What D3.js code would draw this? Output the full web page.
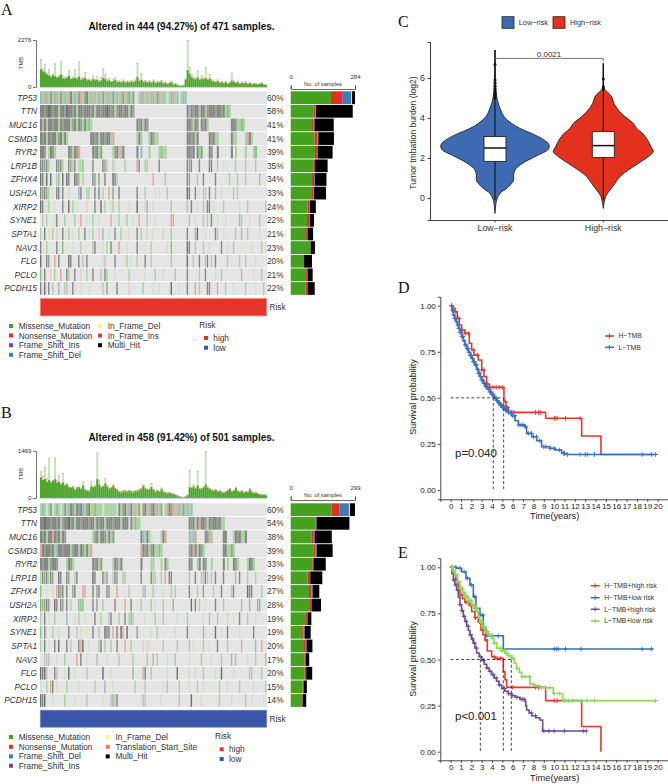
<!DOCTYPE html>
<html>
<head>
<meta charset="utf-8">
<script src="https://d3js.org/d3.v7.min.js"></script>
<style>
  html, body { margin: 0; background: #fff; }
  svg { display: block; font-family: "Liberation Sans", Arial, sans-serif; }
</style>
</head>
<body>
<div id="myChart"></div>
<script>
// genes and percentages of the two oncoplots
const genesA = ["TP53","TTN","MUC16","CSMD3","RYR2","LRP1B","ZFHX4","USH2A","XIRP2","SYNE1","SPTA1","NAV3","FLG","PCLO","PCDH15"];
const pctA = [60,58,41,41,39,35,34,33,24,22,21,23,20,21,22];
const pctB = [60,54,38,39,33,29,27,28,19,19,20,17,20,15,14];

// TMB per column of the oncoplot (about 4 samples a column): whole bar and its solid part
const tmbTopA = [1350,900,1100,700,880,560,640,1140,520,600,1270,560,480,520,820,440,500,850,480,1240,420,460,730,380,420,360,560,400,520,340,480,900,620,360,440,300,380,480,300,320,280,360,260,320,280,340,300,360,1170,380,650,300,340,280,320,260,360,240,300,280,340,220,260,180,240,300,160,200,120,100,90,110,420,2276,980,620,500,460,800,420,560,480,950,440,620,380,320,280,360,240,300,220,280,200,260,680,320,240,300,200,260,220,280,180,240,160,200,180,160,200,240,150,130];
const tmbCoreA = [860,760,700,600,560,480,560,520,440,500,600,420,400,440,540,380,420,440,380,500,340,400,440,320,340,290,380,320,350,260,320,440,380,290,320,240,290,350,230,250,220,280,200,250,220,260,230,280,480,290,340,230,260,220,250,200,270,190,230,220,260,170,200,140,190,230,130,160,100,85,70,85,360,820,640,480,400,370,460,340,400,370,430,340,400,300,260,230,290,200,240,190,230,170,210,310,240,190,230,160,200,170,210,140,190,130,160,140,130,160,170,115,100];
const tmbTopB = [830,700,980,620,1240,520,560,1260,560,730,480,780,440,470,360,340,360,280,330,360,300,520,260,240,220,520,380,400,1420,570,360,400,620,400,300,340,420,320,260,220,190,210,230,200,240,210,190,230,220,260,300,420,300,260,280,470,280,200,250,220,320,200,180,160,190,160,150,120,90,60,40,30,60,110,880,340,420,320,850,320,300,360,1469,360,300,260,240,280,220,240,200,180,210,260,310,220,250,360,230,200,240,180,220,190,310,200,170,190,150,130,110,120,100];
const tmbCoreB = [640,560,590,500,560,480,530,590,480,500,420,480,390,420,340,340,360,280,340,340,290,390,270,250,240,360,340,360,590,420,340,360,450,360,310,340,390,310,270,220,210,240,240,220,250,220,210,240,240,270,310,390,310,280,290,340,280,210,250,220,280,210,180,170,180,150,140,110,85,55,40,28,55,100,340,310,360,310,390,290,310,340,420,320,290,270,240,270,220,240,200,180,210,240,290,220,250,310,220,200,240,180,220,200,270,200,170,180,150,125,110,125,100];

// oncoplot cells: [first column, one letter per column]
const cellColors = {K:"#6e6e6e",k:"#868686",d:"#93a38c",G:"#8ac481",g:"#a8d49e",l:"#cfe5ca",p:"#c2c2c2",r:"#e2a796",e:"#eccac2",b:"#98b8cf",t:"#94c7b3",y:"#efe9a8"};
const cellsA = [
  [[0,"bgtrgdgbrgdgtgrkgbgdrgdkgtgrgbgdgrtgdgbgrdgtdgd"],[48,"lgbrgtgrbgdrgtglgbrgtlgbt"]],
  [[0,"kkdkKkdkkgkkdKkkdkgkkdkkkdkgkkdkkKkdkgdkkdkkgkd"],[73,"kbkdkkgkkrdkkkdkkdkgGg"]],
  [[0,"krkgkkdkkgkdkkkgdkgkdgkgGg"],[48,"kdkgkd"],[73,"kkdgkd"],[80,"kdkg"],[95,"kkdggGg"]],
  [[0,"kdkgkdkkgdkgkg"],[25,"kkdkgkkdkkgr"],[48,"gkg"],[54,"gkdgg"],[73,"kkdkgk"],[84,"kdkgg"],[95,"kgg"],[102,"grkg"]],
  [[0,"kkd"],[4,"gkdg"],[14,"kdgkdr"],[26,"kdkgd"],[36,"gdkgrk"],[48,"k"],[50,"b"],[54,"g"],[59,"gGgg"],[73,"kkdk"],[78,"kgd"],[84,"kd"],[88,"k"],[95,"k"],[97,"g"],[102,"g"],[106,"gG"]],
  [[0,"kkdkg"],[8,"kdkg"],[14,"kdgk"],[19,"ggG"],[26,"k"],[31,"kdg"],[36,"gl"],[42,"g"],[48,"r"],[49,"k"],[52,"gg"],[59,"k"],[73,"kdk"],[79,"k"],[84,"kk"],[88,"g"],[91,"l"],[97,"g"],[102,"g"],[107,"g"]],
  [[0,"Kkl"],[3,"K"],[5,"K"],[8,"gG"],[11,"K"],[13,"Kk"],[17,"KkG"],[21,"g"],[26,"kd"],[29,"d"],[32,"k"],[36,"Kkg"],[56,"r"],[62,"g"],[73,"kd"],[78,"g"],[81,"k"],[87,"k"],[94,"g"],[98,"g"],[102,"g"],[109,"r"]],
  [[0,"kdkd"],[4,"g"],[6,"l"],[8,"k"],[9,"k"],[11,"k"],[14,"l"],[19,"b"],[20,"k"],[23,"gg"],[27,"k"],[29,"k"],[31,"g"],[34,"r"],[36,"d"],[39,"k"],[48,"k"],[52,"g"],[57,"l"],[59,"l"],[63,"g"],[73,"Kk"],[77,"k"],[79,"l"],[81,"pp"],[84,"k"],[87,"b"],[90,"l"],[96,"g"],[98,"g"]],
  [[0,"Kk"],[3,"l"],[4,"g"],[7,"l"],[11,"k"],[14,"K"],[16,"g"],[18,"l"],[23,"e"],[27,"k"],[30,"K"],[32,"g"],[35,"l"],[36,"g"],[39,"g"],[44,"l"],[48,"K"],[52,"e"],[53,"b"],[56,"l"],[65,"g"],[73,"g"],[75,"kl"],[78,"l"],[81,"g"],[83,"kk"],[86,"l"],[91,"g"],[99,"l"],[103,"g"],[112,"g"]],
  [[1,"p"],[3,"g"],[7,"l"],[8,"k"],[12,"g"],[17,"g"],[20,"r"],[23,"l"],[26,"g"],[29,"l"],[35,"r"],[37,"l"],[39,"g"],[43,"g"],[46,"l"],[49,"r"],[53,"g"],[57,"l"],[65,"r"],[66,"r"],[74,"g"],[77,"l"],[81,"p"],[83,"g"],[85,"k"],[88,"l"],[92,"l"],[99,"b"],[100,"g"],[104,"l"],[109,"g"]],
  [[0,"g"],[2,"k"],[4,"l"],[6,"g"],[8,"e"],[11,"k"],[14,"g"],[16,"l"],[19,"g"],[22,"k"],[24,"l"],[26,"g"],[29,"e"],[31,"b"],[34,"l"],[37,"k"],[40,"g"],[44,"l"],[48,"k"],[50,"g"],[53,"e"],[56,"l"],[61,"e"],[65,"g"],[73,"k"],[77,"b"],[78,"K"],[82,"l"],[87,"k"],[88,"g"],[91,"l"],[97,"g"],[100,"r"],[103,"g"],[109,"l"]],
  [[0,"k"],[3,"g"],[8,"k"],[11,"G"],[16,"l"],[20,"p"],[26,"g"],[27,"k"],[31,"l"],[33,"g"],[35,"k"],[39,"r"],[43,"l"],[48,"k"],[52,"l"],[55,"g"],[63,"l"],[65,"G"],[73,"K"],[74,"k"],[77,"g"],[81,"p"],[84,"l"],[90,"k"],[93,"l"],[96,"g"],[105,"l"],[110,"g"],[112,"l"]],
  [[0,"K"],[3,"k"],[4,"d"],[7,"r"],[9,"k"],[14,"Kk"],[19,"k"],[21,"p"],[23,"k"],[31,"l"],[32,"p"],[37,"k"],[43,"g"],[45,"l"],[48,"p"],[52,"k"],[55,"p"],[65,"g"],[73,"K"],[76,"g"],[79,"k"],[82,"pk"],[85,"g"],[87,"k"],[93,"g"],[99,"p"],[102,"g"],[107,"l"]],
  [[0,"G"],[2,"k"],[5,"e"],[7,"g"],[10,"r"],[13,"k"],[14,"g"],[17,"k"],[20,"e"],[23,"g"],[26,"k"],[30,"p"],[32,"k"],[33,"g"],[37,"l"],[44,"g"],[52,"l"],[57,"g"],[61,"l"],[67,"g"],[73,"k"],[79,"g"],[82,"k"],[87,"l"],[90,"g"],[100,"r"],[106,"l"],[110,"g"]],
  [[0,"k"],[2,"K"],[4,"k"],[6,"p"],[9,"b"],[12,"g"],[13,"p"],[16,"k"],[20,"l"],[24,"l"],[31,"g"],[33,"d"],[38,"k"],[44,"e"],[51,"g"],[56,"l"],[59,"l"],[65,"K"],[69,"l"],[73,"k"],[77,"r"],[79,"g"],[83,"kk"],[88,"r"],[92,"g"],[96,"l"],[102,"g"],[107,"l"],[111,"g"]]
];
const cellsB = [
  [[0,"gbglgdlgbglgdgbkdgkdkbgdk"],[25,"ggGggglggggggl"],[39,"kgdkgbkgrgd"],[50,"ydkgrdkrbgdygrkdrgrbgdgbgt"]],
  [[0,"kkKkkdkkdkgdkkKdkgkkdkkkdkkgkdkkgkkkdkkkgkkk"],[45,"kgGgg"],[74,"kdkgkrkkdgkdkkdkgg"]],
  [[0,"kdkgkkrkdkgkd"],[26,"gdkgkkdgkgd"],[50,"kbgkgl"],[60,"gkr"],[74,"bgbr"],[82,"kdrg"],[91,"kk"],[96,"gkdkggk"]],
  [[0,"rkdkkdkgbkkdkkkgdkkgkdgkgr"],[50,"rkdkgdkggGg"],[74,"dkrkgkdg"],[91,"kkggdg"]],
  [[0,"kdkkgdkkd"],[13,"gkdg"],[26,"kdkgd"],[36,"gkdgk"],[50,"k"],[55,"gg"],[60,"g"],[62,"kg"],[74,"kd"],[78,"gk"],[81,"kd"],[85,"g"],[91,"k"],[93,"g"],[96,"kdg"],[103,"gkdg"]],
  [[0,"gkdkgkd"],[9,"Kk"],[13,"kd"],[17,"gk"],[26,"Kk"],[31,"kgd"],[36,"gkd"],[41,"gg"],[50,"k"],[55,"kgg"],[60,"g"],[62,"r"],[64,"kk"],[74,"g"],[77,"k"],[80,"ppkp"],[85,"g"],[87,"k"],[91,"k"],[97,"r"],[99,"k"],[103,"g"],[107,"g"]],
  [[0,"G"],[3,"l"],[6,"l"],[8,"rkdk"],[13,"k"],[16,"d"],[17,"k"],[21,"rr"],[26,"k"],[28,"d"],[29,"k"],[33,"kd"],[38,"r"],[44,"g"],[51,"p"],[52,"b"],[56,"g"],[61,"l"],[65,"g"],[67,"g"],[74,"k"],[78,"g"],[81,"d"],[86,"g"],[90,"k"],[95,"pk"],[103,"Kkk"],[110,"g"]],
  [[0,"dGdkd"],[7,"Kk"],[10,"kd"],[13,"k"],[15,"g"],[19,"GGG"],[26,"k"],[28,"d"],[31,"g"],[37,"k"],[42,"r"],[45,"k"],[50,"g"],[55,"g"],[57,"l"],[61,"g"],[66,"G"],[75,"K"],[77,"k"],[79,"g"],[82,"l"],[87,"k"],[91,"g"],[100,"r"],[104,"G"],[108,"GG"]],
  [[0,"p"],[2,"k"],[4,"l"],[7,"g"],[13,"b"],[17,"l"],[19,"g"],[22,"l"],[27,"k"],[30,"g"],[34,"p"],[35,"k"],[39,"g"],[42,"k"],[44,"gGg"],[52,"l"],[57,"g"],[61,"g"],[68,"l"],[73,"g"],[81,"l"],[84,"g"],[88,"g"],[93,"e"],[96,"l"],[99,"k"],[103,"g"],[107,"l"]],
  [[0,"G"],[2,"k"],[3,"l"],[6,"p"],[9,"l"],[14,"k"],[18,"p"],[20,"l"],[23,"y"],[26,"k"],[29,"p"],[32,"Kkk"],[36,"r"],[38,"k"],[40,"K"],[41,"r"],[43,"K"],[48,"d"],[55,"l"],[58,"g"],[67,"l"],[73,"k"],[81,"b"],[82,"l"],[87,"K"],[90,"l"],[93,"k"],[99,"l"],[106,"k"]],
  [[0,"g"],[2,"k"],[4,"l"],[7,"k"],[9,"K"],[13,"k"],[15,"p"],[19,"krK"],[24,"l"],[29,"pk"],[32,"g"],[35,"p"],[38,"k"],[42,"r"],[45,"g"],[51,"e"],[53,"e"],[54,"l"],[61,"p"],[68,"g"],[74,"g"],[76,"l"],[81,"g"],[84,"l"],[88,"k"],[93,"g"],[100,"r"],[107,"b"],[110,"r"]],
  [[2,"pp"],[4,"p"],[8,"l"],[12,"g"],[18,"r"],[20,"k"],[23,"l"],[28,"g"],[33,"l"],[39,"g"],[46,"g"],[53,"p"],[56,"r"],[58,"g"],[63,"l"],[67,"g"],[74,"l"],[80,"g"],[85,"l"],[90,"g"],[95,"b"],[97,"r"],[103,"l"],[107,"g"],[112,"r"]],
  [[0,"KkKp"],[7,"kp"],[12,"l"],[14,"K"],[17,"l"],[23,"p"],[31,"K"],[35,"l"],[46,"G"],[51,"rk"],[55,"g"],[63,"l"],[68,"K"],[74,"l"],[77,"e"],[81,"g"],[87,"l"],[90,"K"],[96,"l"],[104,"pp"],[110,"g"]],
  [[0,"l"],[3,"g"],[5,"r"],[6,"k"],[8,"l"],[13,"g"],[19,"l"],[27,"g"],[32,"b"],[36,"l"],[47,"g"],[52,"p"],[61,"l"],[63,"g"],[69,"g"],[74,"l"],[78,"p"],[81,"l"],[89,"g"],[93,"l"],[99,"g"],[106,"l"],[112,"g"]],
  [[0,"Kk"],[2,"K"],[6,"l"],[12,"g"],[17,"l"],[23,"g"],[31,"l"],[35,"pGpk"],[51,"pp"],[60,"l"],[69,"g"],[75,"K"],[80,"l"],[89,"g"],[95,"l"],[102,"g"],[105,"l"],[111,"l"]]
];

// side bars: samples of each mutation class per gene
const classOrderA = ["Missense_Mutation","Nonsense_Mutation","Frame_Shift_Ins","Frame_Shift_Del","In_Frame_Del","In_Frame_Ins","Multi_Hit"];
const classOrderB = ["Missense_Mutation","Nonsense_Mutation","Frame_Shift_Del","Frame_Shift_Ins","In_Frame_Del","Translation_Start_Site","Multi_Hit"];
const classColors = {Missense_Mutation:"#45a21f",Nonsense_Mutation:"#e03020",Frame_Shift_Ins:"#7a3fb0",Frame_Shift_Del:"#3a80b8",In_Frame_Del:"#fdf28c",In_Frame_Ins:"#d83a55",Translation_Start_Site:"#f57a50",Multi_Hit:"#000000"};
const sideA = [[178,50,3,37,3,0,13],[100,9,0,3,0,0,162],[94,7,0,4,0,0,85],[106,12,0,4,0,0,69],[107,9,0,4,0,0,65],[100,7,0,0,0,0,56],[94,9,0,4,0,0,51],[94,6,0,3,0,0,53],[75,7,0,3,0,0,26],[72,9,0,4,0,0,18],[68,7,0,0,0,0,24],[87,1,0,0,0,0,19],[59,0,0,0,0,0,35],[68,7,0,0,0,0,22],[66,9,0,0,0,0,31]];
const sideB = [[191,37,40,5,3,0,23],[115,5,0,0,0,0,153],[96,8,5,4,0,0,78],[105,11,5,0,0,0,74],[101,5,0,0,0,0,57],[79,12,0,0,0,0,56],[85,12,5,0,0,0,31],[90,9,0,0,0,0,42],[71,8,0,0,0,0,17],[53,6,6,0,0,0,28],[62,8,0,5,0,0,26],[64,6,0,0,0,0,16],[64,8,0,0,0,0,28],[56,5,0,0,0,0,14],[53,3,0,0,0,0,16]];

// violin densities
const violinLowV = [7.4,5.73,5.07,4.73,4.4,4.07,3.73,3.48,3.23,2.98,2.73,2.57,2.4,2.15,1.9,1.65,1.4,1.15,0.9,0.73,0.48,0.23,-0.1,-0.77];
const violinLowD = [0,2,5,10,17,27,50,75,110,140,160,163,158,130,100,75,60,56,56,50,35,15,5,0];
const violinHighV = [6.73,5.48,5.3,5.07,4.73,4.4,4.07,3.73,3.48,3.23,2.9,2.57,2.32,2.07,1.73,1.4,1.07,0.73,0.4,0.07,-0.52];
const violinHighD = [0,3,12,25,32,45,65,90,100,118,133,143,150,135,105,75,50,35,20,7,0];
const riskGroups = ["Low−risk","High−risk"];
const boxQ1 = [1.83,2.03], boxMed = [2.5,2.62], boxQ3 = [3.07,3.32];
const whiskerTop = [7.4,6.73], whiskerBottom = [-0.1,-0.1];
const outliersLow = [6.67,5.9,5.75,5.6,5.45,5.3,5.2,5.1,5.0];
const outliersHigh = [5.95,5.55,5.45];

// survival curves, time in years and survival
const dHighT = [0,.2,.42,.64,.84,1.06,1.38,1.8,2.03,2.25,2.67,3,3.22,3.48,3.74,4.28,5.15,5.35,5.57,9.18,12.66,14.52,19.58];
const dHighS = [1,.985,.967,.931,.895,.868,.85,.796,.76,.732,.705,.651,.615,.575,.557,.557,.479,.448,.421,.389,.293,.193,.193];
const dHighC = [.1,.3,.5,.8,1.1,1.4,1.7,2.2,2.6,3,3.2,3.5,3.8,4.1,4.4,4.7,5,5.3,5.5,5.9,6.1,8.2,8.5,8.7,10,10.1,10.3,11.1,12.5,18.5,19.4];
const dLowT = [0,.13,.26,.39,.52,.65,.77,.9,1.06,1.22,1.38,1.55,1.71,1.87,2.03,2.19,2.35,2.51,2.67,2.83,3,3.16,3.32,3.48,3.64,3.8,3.96,4.12,4.28,4.44,4.6,4.76,4.93,5.25,5.57,5.89,6.22,6.54,7.18,7.34,7.83,8.31,8.79,9.6,10.08,10.72,11.05,19.9];
const dLowS = [1,.973,.949,.93,.913,.895,.877,.856,.832,.81,.787,.767,.747,.73,.714,.696,.678,.655,.633,.615,.597,.58,.564,.555,.546,.532,.519,.508,.497,.485,.474,.461,.448,.434,.42,.403,.376,.353,.344,.307,.289,.268,.235,.226,.217,.199,.193,.193];
const dLowC = [.1,.2,.3,.4,.5,.6,.7,.8,.9,1,1.1,1.2,1.3,1.4,1.5,1.6,1.7,1.8,1.9,2,2.1,2.2,2.3,2.4,2.5,2.6,2.7,2.8,2.9,3,3.1,3.2,3.3,3.4,3.5,3.6,3.7,3.8,3.9,4,4.1,4.2,4.3,4.4,4.5,4.6,4.7,4.8,4.9,5,5.1,5.2,5.3,5.4,5.5,5.6,5.8,6,6.2,6.6,6.8,7,7.2,7.5,7.8,8,8.3,8.6,9,9.2,9.6,10,10.5,10.9,11,11.3,12.5,13,13.2,13.9,19.8];

const eHighRiskT = [0,.16,.32,.48,.64,.78,.9,1.14,1.38,1.8,2.03,2.35,2.67,2.93,3.12,3.32,3.54,3.96,4.28,5.09,5.25,5.41,9.18,12.66,14.52,14.52];
const eHighRiskS = [1,.98,.958,.935,.913,.88,.85,.83,.81,.796,.76,.727,.705,.66,.635,.606,.546,.515,.506,.434,.39,.349,.277,.137,0,0];
const eHighRiskC = [.5,1.1,1.5,1.9,2.4,2.8,3.1,3.4,4.2,4.5,4.8,6,8.2,8.5,10,10.3];
const eLowRiskT = [0,.58,1.06,1.48,1.87,2.19,2.45,2.83,3.16,3.41,5.09,19.58];
const eLowRiskS = [1,.995,.976,.94,.904,.841,.778,.741,.669,.629,.557,.557];
const eLowRiskC = [.2,.5,.9,1.3,1.6,2,2.3,2.9,3.1,3.5,4,4.6,10,10.2,10.4,11.1,12.6,18.5,19.4];
const ePurpleT = [0,.13,.26,.42,.58,.74,.9,1.06,1.22,1.38,1.55,1.71,1.87,2.03,2.19,2.35,2.51,2.75,3,3.24,3.48,3.72,3.96,4.2,4.44,4.68,4.93,5.25,5.57,5.9,6.22,6.7,7.18,7.26,7.34,7.58,7.83,8.23,8.63,8.89,13.14];
const ePurpleS = [1,.965,.931,.904,.877,.838,.797,.765,.734,.707,.68,.657,.634,.611,.589,.562,.535,.515,.495,.474,.454,.436,.418,.4,.382,.362,.342,.328,.315,.305,.295,.284,.273,.25,.226,.21,.195,.184,.172,.112,.112];
const ePurpleC = [.1,.3,.5,.7,.9,1.1,1.3,1.5,1.7,1.9,2.1,2.3,2.5,2.9,3.2,3.5,3.8,4.1,4.4,4.7,5.2,5.6,6,6.4,6.9,7.1,7.8,8.2,9,9.5,10,11,12.8,13.1];
const eGreenT = [0,.21,.42,.66,.9,1.14,1.38,1.7,2.03,2.27,2.51,2.67,2.83,3.08,3.32,3.64,3.96,4.2,4.44,4.85,5.25,5.57,5.89,6.14,6.38,6.62,6.86,7.66,8.15,8.63,9.92,10.82,19.9];
const eGreenS = [1,.98,.958,.922,.886,.863,.841,.818,.796,.778,.76,.732,.705,.678,.651,.633,.615,.588,.561,.548,.534,.52,.506,.48,.452,.43,.407,.365,.356,.347,.316,.277,.277];
const eGreenC = [.1,.2,.3,.4,.5,.6,.7,.8,.9,1,1.1,1.2,1.3,1.4,1.5,1.6,1.7,1.8,1.9,2,2.1,2.2,2.3,2.4,2.5,2.6,2.7,2.8,2.9,3,3.1,3.2,3.3,3.4,3.5,3.6,3.8,4,4.2,4.4,4.6,4.8,5,5.2,5.4,5.6,5.8,6,6.4,6.9,7.2,7.6,8,8.4,8.8,9.2,9.6,10,10.5,11,11.4,11.8,12.7,13.2,13.9,19.8];
const yearTicks = d3.range(0, 21);
const survivalTicks = [0,.25,.5,.75,1];

const width = 668, height = 784;
const svg = d3.select("#myChart").append("svg").attr("width", width).attr("height", height);
const defs = svg.append("defs");
defs.append("filter").attr("id", "soft").append("feGaussianBlur").attr("stdDeviation", 0.35);

function panelLetter(s, x, y) {
  svg.append("text").text(s).attr("x", x).attr("y", y)
    .style("font-family", "'Liberation Serif', serif").style("font-size", "16px").attr("fill", "#111");
}

// Oncoplot panels A and B
function drawOncoplot(o) {
  const g = svg.append("g");
  const columns = o.tmbTop.length;
  const x = d3.scaleBand().domain(d3.range(columns)).range([40, 267]).paddingInner(0);
  const rowY = d3.scaleBand().domain(genesA).range([o.rowTop, o.rowTop + 13.57 * 15]).paddingInner(0.065).paddingOuter(0);
  const tmbY = d3.scaleLinear().domain([0, o.tmbMax]).range([o.tmbBase, o.tmbBase - 47]);

  g.append("text").text(o.title).attr("x", 181.5).attr("y", o.titleY).attr("text-anchor", "middle")
    .style("font-size", "10px").style("font-weight", "bold").attr("fill", "#111");

  // TMB bars
  const bars = g.append("g").attr("filter", "url(#soft)");
  bars.selectAll(".top").data(o.tmbTop).enter().append("rect")
    .attr("x", (d, i) => x(i)).attr("width", x.bandwidth())
    .attr("y", d => tmbY(d)).attr("height", d => o.tmbBase - tmbY(d)).attr("fill", "#c6e2bb");
  bars.selectAll(".core").data(o.tmbCore).enter().append("rect")
    .attr("x", (d, i) => x(i)).attr("width", x.bandwidth())
    .attr("y", d => tmbY(d)).attr("height", d => o.tmbBase - tmbY(d)).attr("fill", "#4ea82c");
  bars.selectAll(".cap").data(o.tmbTop).enter().append("rect")
    .attr("x", (d, i) => x(i)).attr("width", x.bandwidth())
    .attr("y", d => tmbY(d)).attr("height", 0.9).attr("fill", "#f0b0a0");
  g.append("line").attr("x1", 40).attr("x2", 267).attr("y1", o.tmbBase + 0.3).attr("y2", o.tmbBase + 0.3)
    .attr("stroke", "#a0bccb").attr("stroke-width", 0.8);

  const tmbAxis = d3.axisLeft(tmbY).tickValues([0, o.tmbMax]).tickFormat(d3.format("d")).tickSize(3).tickPadding(1.5);
  const axG = g.append("g").attr("transform", "translate(36,0)").call(tmbAxis);
  axG.selectAll("path,line").attr("stroke", "#777").attr("stroke-width", 1);
  axG.selectAll("text").style("font-size", "6.2px").attr("fill", "#333");
  g.append("text").text("TMB").attr("transform", `translate(22.5,${o.tmbBase - 24}) rotate(-90)`)
    .attr("text-anchor", "middle").style("font-size", "5.6px").attr("fill", "#333");

  // rows
  const heat = g.append("g").attr("filter", "url(#soft)");
  heat.selectAll(".bg").data(genesA).enter().append("rect")
    .attr("x", 40).attr("width", 227).attr("y", d => rowY(d)).attr("height", rowY.bandwidth()).attr("fill", "#e5e5e5");
  o.cells.forEach((spans, r) => {
    const letters = spans.flatMap(s => s[1].split("").map((c, k) => ({col: s[0] + k, c})));
    const cellWidth = r >= 5 ? 1.4 : x.bandwidth() + 0.05;
    heat.selectAll(null).data(letters).enter().append("rect")
      .attr("x", d => x(d.col)).attr("width", cellWidth)
      .attr("y", rowY(genesA[r])).attr("height", rowY.bandwidth())
      .attr("fill", d => cellColors[d.c]);
  });

  g.selectAll(".gene").data(genesA).enter().append("text").text(d => d)
    .attr("x", 37).attr("y", d => rowY(d) + rowY.bandwidth() / 2 + 3)
    .attr("text-anchor", "end").style("font-size", "8.3px").style("font-style", "italic").attr("fill", "#333");
  g.selectAll(".pct").data(o.pct).enter().append("text").text(d => d + "%")
    .attr("x", 267).attr("y", (d, i) => rowY(genesA[i]) + rowY.bandwidth() / 2 + 3)
    .style("font-size", "8.3px").attr("fill", "#333");

  // side stacked bars
  const sideX = d3.scaleLinear().domain([0, o.sideMax]).range([290.7, 355]);
  const stack = d3.stack().keys(d3.range(7))(o.side);
  stack.forEach((layer, k) => {
    g.selectAll(null).data(layer).enter().append("rect")
      .attr("x", d => sideX(d[0])).attr("width", d => sideX(d[1]) - sideX(d[0]))
      .attr("y", (d, i) => rowY(genesA[i])).attr("height", rowY.bandwidth())
      .attr("fill", classColors[o.classes[k]]);
  });
  const sideAxis = d3.axisTop(sideX).tickValues([0, o.sideMax]).tickSize(3.5).tickPadding(6.5);
  const sideG = g.append("g").attr("transform", `translate(0,${o.sideAxisY})`).call(sideAxis);
  sideG.selectAll("path,line").attr("stroke", "#444").attr("stroke-width", 0.8);
  sideG.selectAll("text").style("font-size", "6px").attr("fill", "#333");
  g.append("text").text("No. of samples").attr("x", 323).attr("y", o.sideAxisY - 3.2)
    .attr("text-anchor", "middle").style("font-size", "5.7px").attr("fill", "#333");

  // risk annotation
  g.append("rect").attr("x", 40.3).attr("width", 226.4).attr("y", o.riskY).attr("height", o.riskH)
    .attr("fill", o.riskColor).attr("stroke", o.riskEdge).attr("stroke-width", 0.7);
  g.append("text").text("Risk").attr("x", 269.5).attr("y", o.riskY + o.riskH / 2 + 3)
    .style("font-size", "8.3px").attr("fill", "#333");

  // legends
  const legend = (names, sx, tx, ys, colors) => {
    g.selectAll(null).data(names).enter().append("rect")
      .attr("x", sx - 2).attr("y", (d, i) => ys[i] - 2).attr("width", 4).attr("height", 4).attr("fill", (d, i) => colors[i]);
    g.selectAll(null).data(names).enter().append("text").text(d => d)
      .attr("x", tx).attr("y", (d, i) => ys[i] + 3).style("font-size", "8.3px").attr("fill", "#333");
  };
  legend(o.legend1, 11, 18.7, o.legendY, o.legend1.map(d => classColors[d]));
  legend(o.legend2, o.col2, o.col2 + 7.7, o.legendY, o.legend2.map(d => classColors[d]));
  g.append("text").text("Risk").attr("x", o.riskX).attr("y", o.legendY[0] + 2)
    .style("font-size", "8.3px").attr("fill", "#333");
  legend(["high","low"], o.riskX + 6.7, o.riskX + 14, o.riskLegendY, ["#e5352a","#3b55a8"]);
}

const legendNamesA1 = ["Missense_Mutation","Nonsense_Mutation","Frame_Shift_Ins","Frame_Shift_Del"];
const legendNamesA2 = ["In_Frame_Del","In_Frame_Ins","Multi_Hit"];
const legendNamesB1 = ["Missense_Mutation","Nonsense_Mutation","Frame_Shift_Del","Frame_Shift_Ins"];
const legendNamesB2 = ["In_Frame_Del","Translation_Start_Site","Multi_Hit"];

drawOncoplot({title: "Altered in 444 (94.27%) of 471 samples.", titleY: 30, tmbTop: tmbTopA, tmbCore: tmbCoreA, tmbMax: 2276, tmbBase: 87,
  rowTop: 91.3, cells: cellsA, pct: pctA, side: sideA, sideMax: 284, sideAxisY: 89, classes: classOrderA,
  riskY: 298.5, riskH: 17.4, riskColor: "#e5352a", riskEdge: "#f08a78",
  legendY: [326,335.5,345.2,354.8], legend1: legendNamesA1, legend2: legendNamesA2, col2: 100, riskX: 199.3, riskLegendY: [338,347.7]});
drawOncoplot({title: "Altered in 458 (91.42%) of 501 samples.", titleY: 441, tmbTop: tmbTopB, tmbCore: tmbCoreB, tmbMax: 1469, tmbBase: 498,
  rowTop: 503.3, cells: cellsB, pct: pctB, side: sideB, sideMax: 299, sideAxisY: 500, classes: classOrderB,
  riskY: 710.2, riskH: 17, riskColor: "#3b55a8", riskEdge: "#6f86c8",
  legendY: [737,746.8,756.4,765.8], legend1: legendNamesB1, legend2: legendNamesB2, col2: 107.7, riskX: 215, riskLegendY: [749.3,759]});

panelLetter("A", 1, 15);
panelLetter("B", 1, 418);
panelLetter("C", 398, 27);
panelLetter("D", 398, 293);
panelLetter("E", 398, 558);

// Panel C violins
(function () {
  const y = d3.scaleLinear().domain([-1.1, 7.8]).range([220, 42]);
  const x = d3.scalePoint().domain(riskGroups).range([495, 603.3]);
  const w = d3.scaleLinear().domain([0, 163]).range([0, 54.3]);
  const fills = ["#3d6ab0", "#e2311d"];
  const groups = [
    {v: violinLowV, d: violinLowD, out: outliersLow},
    {v: violinHighV, d: violinHighD, out: outliersHigh}
  ];
  const area = d3.area().curve(d3.curveCatmullRom.alpha(0.5));
  const g = svg.append("g");
  groups.forEach((s, i) => {
    const cx = x(riskGroups[i]);
    const pts = s.v.map((v, k) => [v, s.d[k]]);
    g.append("path").datum(pts)
      .attr("d", area.y(d => y(d[0])).x0(d => cx - w(d[1])).x1(d => cx + w(d[1])))
      .attr("fill", fills[i]).attr("stroke", "#222").attr("stroke-width", 0.9);
    g.append("line").attr("x1", cx).attr("x2", cx).attr("y1", y(whiskerTop[i])).attr("y2", y(whiskerBottom[i]))
      .attr("stroke", "#111").attr("stroke-width", 1.1);
    g.selectAll(null).data(s.out).enter().append("circle")
      .attr("cx", cx).attr("cy", d => y(d)).attr("r", 1.5).attr("fill", "#111");
    g.append("rect").attr("x", cx - 11).attr("width", 22)
      .attr("y", y(boxQ3[i])).attr("height", y(boxQ1[i]) - y(boxQ3[i]))
      .attr("fill", "#fff").attr("stroke", "#222").attr("stroke-width", 0.9);
    g.append("line").attr("x1", cx - 11).attr("x2", cx + 11).attr("y1", y(boxMed[i])).attr("y2", y(boxMed[i]))
      .attr("stroke", "#111").attr("stroke-width", 1.5);
  });
  // significance bracket
  g.append("path").attr("fill", "none").attr("stroke", "#666").attr("stroke-width", 0.9)
    .attr("d", `M${x(riskGroups[0])},${y(6.98)}H${x(riskGroups[1])}V${y(6.82)}`);
  g.append("text").text("0.0021").attr("x", 549).attr("y", 56.5).attr("text-anchor", "middle")
    .style("font-size", "8px").attr("fill", "#333");

  const yAxis = g.append("g").attr("transform", "translate(430,0)").call(d3.axisLeft(y).tickValues([0,2,4,6]).tickSize(2.5).tickPadding(2.5));
  const xAxis = g.append("g").attr("transform", "translate(0,220)").call(d3.axisBottom(d3.scaleLinear().domain([430,668]).range([430,668])).tickValues([]).tickSize(0));
  g.selectAll(null).data(riskGroups).enter().append("line")
    .attr("x1", d => x(d)).attr("x2", d => x(d)).attr("y1", 220).attr("y2", 222.5).attr("stroke", "#444");
  g.selectAll(null).data(riskGroups).enter().append("text").text(d => d)
    .attr("x", d => x(d)).attr("y", 230.5).attr("text-anchor", "middle").style("font-size", "8.8px").attr("fill", "#333");
  [yAxis, xAxis].forEach(a => a.selectAll("path,line").attr("stroke", "#444").attr("stroke-width", 1.1));
  yAxis.selectAll("text").style("font-size", "8.8px").attr("fill", "#333");
  g.append("text").text("Tumor tmbation burden (log2)").attr("transform", "translate(416,133) rotate(-90)")
    .attr("text-anchor", "middle").style("font-size", "8.6px").attr("fill", "#333");

  // legend
  const lx = [502, 553], tx = [518.7, 570];
  riskGroups.forEach((name, i) => {
    g.append("rect").attr("x", lx[i]).attr("y", 16.7).attr("width", 12).attr("height", 11.6)
      .attr("fill", fills[i]).attr("stroke", "#222").attr("stroke-width", 0.8);
    g.append("text").text(name).attr("x", tx[i]).attr("y", 25.2).style("font-size", "7.4px").attr("fill", "#333");
  });
})();

// Panels D and E survival curves
function drawSurvival(o) {
  const g = svg.append("g");
  const x = d3.scaleLinear().domain([-1, 21]).range([440.3, 668]);
  const y = d3.scaleLinear().domain([0, 1]).range([o.y0, o.y1]);
  const top = o.top, bottom = o.bottom;
  const line = d3.line().curve(d3.curveStepAfter).x(d => x(d[0])).y(d => y(d[1]));
  const plus = "M-2.4,0H2.4M0,-2.4V2.4";

  o.curves.forEach(c => {
    const pts = c.t.map((t, i) => [t, c.s[i]]);
    g.append("path").datum(pts).attr("d", line).attr("fill", "none")
      .attr("stroke", c.color).attr("stroke-width", 1.6);
    const bis = d3.bisector(d => d).right;
    g.selectAll(null).data(c.cens).enter().append("path").attr("d", plus)
      .attr("transform", d => `translate(${x(d)},${y(c.s[Math.max(0, bis(c.t, d) - 1)])})`)
      .attr("fill", "none").attr("stroke", c.color).attr("stroke-width", 0.9);
  });

  // median lines
  g.append("line").attr("x1", x(0)).attr("x2", x(o.medianEnd)).attr("y1", y(.5)).attr("y2", y(.5))
    .attr("stroke", "#333").attr("stroke-width", 0.9).attr("stroke-dasharray", "3,2.2");
  g.selectAll(null).data(o.medians).enter().append("line")
    .attr("x1", d => x(d)).attr("x2", d => x(d)).attr("y1", y(.5)).attr("y2", y(0))
    .attr("stroke", "#333").attr("stroke-width", 0.9).attr("stroke-dasharray", "3,2.2");

  const axY = g.append("g").attr("transform", "translate(440.3,0)")
    .call(d3.axisLeft(d3.scaleLinear().domain([bottom, top]).range([y(bottom), y(top)]))
      .tickValues(survivalTicks).tickFormat(d3.format(".2f")).tickSize(2.5).tickPadding(2));
  const axX = g.append("g").attr("transform", `translate(0,${y(bottom)})`)
    .call(d3.axisBottom(x).tickValues(yearTicks).tickSize(2.5).tickPadding(1.5));
  [axY, axX].forEach(a => {
    a.selectAll("path,line").attr("stroke", "#333").attr("stroke-width", 0.9);
    a.selectAll("text").style("font-size", "8px").attr("fill", "#222");
  });

  g.append("text").text("Time(years)").attr("x", 554.7).attr("y", o.xTitleY).attr("text-anchor", "middle")
    .style("font-size", "9.3px").attr("fill", "#222");
  g.append("text").text("Survival probability").attr("transform", `translate(416,${o.yTitleC}) rotate(-90)`)
    .attr("text-anchor", "middle").style("font-size", "9px").attr("fill", "#222");
  g.append("text").text(o.p).attr("x", 455).attr("y", o.pY).style("font-size", "11.5px").attr("fill", "#222");

  o.curves.forEach((c, i) => {
    const ly = o.legendY[i];
    g.append("line").attr("x1", o.legendX).attr("x2", o.legendX + 9).attr("y1", ly).attr("y2", ly)
      .attr("stroke", c.color).attr("stroke-width", 1.5);
    g.append("path").attr("d", plus).attr("transform", `translate(${o.legendX + 4.5},${ly})`)
      .attr("fill", "none").attr("stroke", c.color).attr("stroke-width", 0.9);
    g.append("text").text(c.name).attr("x", o.legendX + 13.6).attr("y", ly + 2.4)
      .style("font-size", "6.8px").attr("fill", "#333");
  });
}

drawSurvival({
  y0: 490, y1: 305.7, top: 1.0488, bottom: -0.0505,
  curves: [
    {name: "H−TMB", t: dHighT, s: dHighS, cens: dHighC, color: "#e5392c"},
    {name: "L−TMB", t: dLowT, s: dLowS, cens: dLowC, color: "#3c6eb8"}
  ],
  medianEnd: 5.12, medians: [4.12, 5.12], p: "p=0.040", pY: 457,
  xTitleY: 519, yTitleC: 397, legendX: 605, legendY: [336, 347.3]
});
drawSurvival({
  y0: 751.7, y1: 567.3, top: 1.049, bottom: -0.0466,
  curves: [
    {name: "H−TMB+high risk", t: eHighRiskT, s: eHighRiskS, cens: eHighRiskC, color: "#e5392c"},
    {name: "H−TMB+low risk", t: eLowRiskT, s: eLowRiskS, cens: eLowRiskC, color: "#3c6eb8"},
    {name: "L−TMB+high risk", t: ePurpleT, s: ePurpleS, cens: ePurpleC, color: "#6b4c96"},
    {name: "L−TMB+low risk", t: eGreenT, s: eGreenS, cens: eGreenC, color: "#8ed65c"}
  ],
  medianEnd: 5.86, medians: [2.87, 5.09, 5.86], p: "p<0.001", pY: 719.5,
  xTitleY: 781, yTitleC: 659, legendX: 590.7, legendY: [585.7, 597.7, 609.3, 621]
});
</script>
</body>
</html>
